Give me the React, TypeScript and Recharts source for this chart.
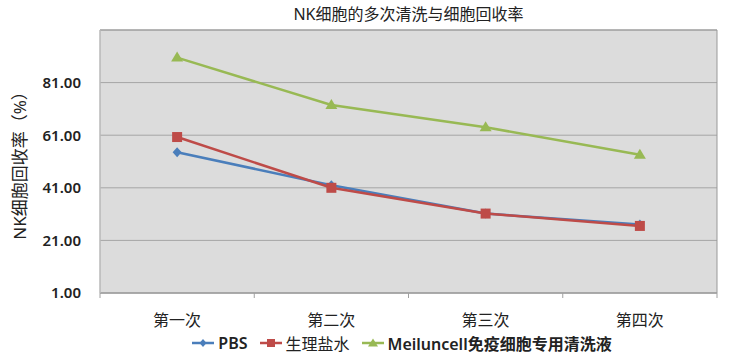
import React from 'react';
import {
  LineChart,
  Line,
  XAxis,
  YAxis,
  CartesianGrid,
  ReferenceArea,
} from 'recharts';

const categories = ['第一次', '第二次', '第三次', '第四次'];
const pbsValues = [54.5, 42, 31.2, 27];
const salineValues = [60.3, 41, 31.2, 26.5];
const meiluncellValues = [90.5, 72.5, 64, 53.6];
const yTicks = [1, 21, 41, 61, 81];

const seriesNames = ['PBS', '生理盐水', 'Meiluncell免疫细胞专用清洗液'];
const colors = ['#4a7ebb', '#be4b48', '#98b954'];

const data = categories.map((name, i) => ({
  name,
  pbs: pbsValues[i],
  saline: salineValues[i],
  meiluncell: meiluncellValues[i],
}));

const font = '"Noto Sans", "Noto Sans CJK SC", sans-serif';

const Diamond = (props: any) => {
  const { cx, cy } = props;
  if (cx == null || cy == null) return null;
  return <polygon points={`${cx},${cy - 5} ${cx + 4.5},${cy} ${cx},${cy + 5} ${cx - 4.5},${cy}`} fill={colors[0]} />;
};

const Square = (props: any) => {
  const { cx, cy } = props;
  if (cx == null || cy == null) return null;
  return <rect x={cx - 5} y={cy - 5} width={10} height={10} fill={colors[1]} />;
};

const Triangle = (props: any) => {
  const { cx, cy } = props;
  if (cx == null || cy == null) return null;
  return <polygon points={`${cx},${cy - 6} ${cx + 6},${cy + 4} ${cx - 6},${cy + 4}`} fill={colors[2]} />;
};

const XTick = (props: any) => {
  const { x, y, payload, index } = props;
  const off = payload && payload.offset ? payload.offset : 77;
  return (
    <g>
      <line x1={x - off} y1={y} x2={x - off} y2={y + 5} stroke="#a0a0a0" />
      {index === categories.length - 1 && (
        <line x1={x + off} y1={y} x2={x + off} y2={y + 5} stroke="#a0a0a0" />
      )}
      <text x={x} y={y + 33} textAnchor="middle" fontSize={16} fill="#222" fontFamily={font}>
        {payload.value}
      </text>
    </g>
  );
};

const LegendIcon = ({ i }: { i: number }) => (
  <svg width={22} height={12} style={{ marginRight: 4 }}>
    <line x1={0} y1={6} x2={22} y2={6} stroke={colors[i]} strokeWidth={2.5} />
    {i === 0 && <polygon points="11,2 14.5,6 11,10 7.5,6" fill={colors[0]} />}
    {i === 1 && <rect x={7} y={2} width={8} height={8} fill={colors[1]} />}
    {i === 2 && <polygon points="11,1.5 16,9.5 6,9.5" fill={colors[2]} />}
  </svg>
);

export default function App() {
  return (
    <div style={{ position: 'absolute', left: 0, top: 0, width: 732, height: 354, background: '#fff', fontFamily: font }}>
      <div
        style={{
          position: 'absolute',
          left: 100,
          width: 617,
          top: 1,
          textAlign: 'center',
          fontSize: 16,
          color: '#222',
        }}
      >
        NK细胞的多次清洗与细胞回收率
      </div>
      <LineChart width={732} height={354} data={data} margin={{ top: 30, right: 15, left: 0, bottom: 31 }}>
        <CartesianGrid vertical={false} stroke="#a5a5a5" fill="#dcdcdc" />
        <ReferenceArea y1={1} y2={101} fill="none" stroke="#999" strokeOpacity={1} />
        <XAxis
          dataKey="name"
          scale="band"
          height={30}
          axisLine={{ stroke: '#a0a0a0' }}
          tickLine={false}
          tickSize={0}
          tickMargin={0}
          tick={<XTick />}
        />
        <YAxis
          width={100}
          domain={[1, 101]}
          ticks={yTicks}
          axisLine={{ stroke: '#c8c8c8' }}
          tickLine={false}
          tickSize={0}
          tickMargin={19}
          tickFormatter={(v: number) => v.toFixed(2)}
          tick={{ fill: '#222', fontSize: 15, fontWeight: 600, fontFamily: font }}
          label={{
            content: (p: any) => {
              const vb = p.viewBox || { x: 0, y: 30, width: 100, height: 263 };
              const cx = 19;
              const cy = vb.y + vb.height / 2;
              return (
                <text
                  x={cx}
                  y={cy}
                  transform={`rotate(-90, ${cx}, ${cy})`}
                  textAnchor="middle"
                  dominantBaseline="central"
                  fontSize={17}
                  fill="#222"
                  fontFamily={font}
                >
                  NK细胞回收率（%）
                </text>
              );
            },
          }}
        />
        <Line
          type="linear"
          dataKey="pbs"
          name={seriesNames[0]}
          stroke={colors[0]}
          strokeWidth={2.5}
          dot={<Diamond />}
          activeDot={false}
          isAnimationActive={false}
        />
        <Line
          type="linear"
          dataKey="saline"
          name={seriesNames[1]}
          stroke={colors[1]}
          strokeWidth={2.5}
          dot={<Square />}
          activeDot={false}
          isAnimationActive={false}
        />
        <Line
          type="linear"
          dataKey="meiluncell"
          name={seriesNames[2]}
          stroke={colors[2]}
          strokeWidth={2.5}
          dot={<Triangle />}
          activeDot={false}
          isAnimationActive={false}
        />
      </LineChart>
      <div
        style={{
          position: 'absolute',
          top: 331,
          left: 0,
          width: 816,
          display: 'flex',
          justifyContent: 'center',
          alignItems: 'center',
          fontSize: 16,
          color: '#222',
        }}
      >
        {seriesNames.map((n, i) => (
          <div key={n} style={{ display: 'flex', alignItems: 'center', marginRight: 12 }}>
            <LegendIcon i={i} />
            <span style={{ fontWeight: i === 1 ? 400 : 600 }}>{n}</span>
          </div>
        ))}
      </div>
    </div>
  );
}
